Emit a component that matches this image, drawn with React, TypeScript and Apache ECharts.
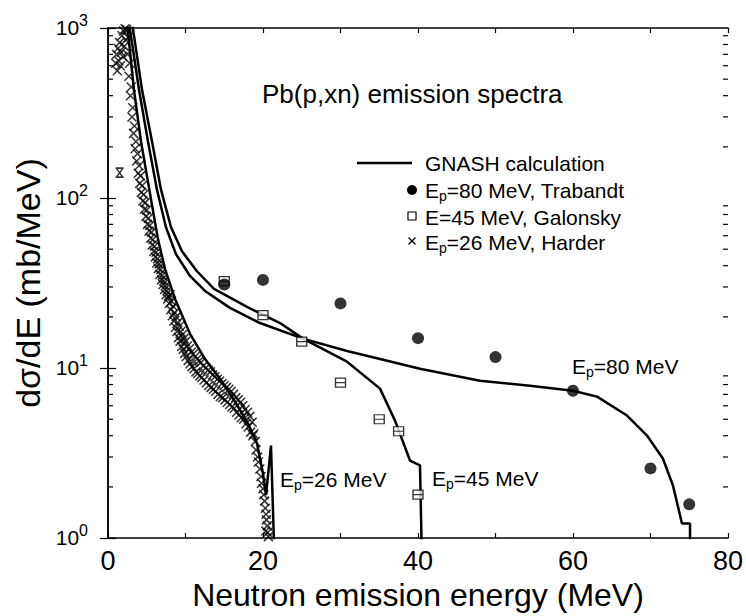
import React, { useEffect, useRef } from "react";
import * as echarts from "echarts";

const FONT = "'Liberation Sans', Arial, Helvetica, sans-serif";

// GNASH calculations: [neutron energy (MeV), dσ/dE (mb/MeV)]
const gnash80: [number, number][] = [
  [2.7, 1080], [4.0, 433], [5.16, 215], [6.32, 112], [7.48, 67.3], [8.77, 46.8],
  [10.58, 34.8], [12.52, 28.4], [15.74, 22.6], [19.61, 18.4], [25.16, 14.9],
  [30.84, 12.6], [35.1, 11.3], [40.26, 9.9], [48.0, 8.43], [54.45, 7.88],
  [60.0, 7.36], [63.1, 6.79], [66.97, 5.26], [69.55, 4.01], [71.6, 2.94],
  [72.9, 2.04], [74.06, 1.22], [75.1, 1.22], [75.1, 0.45],
];

const gnash45: [number, number][] = [
  [3.1, 1080], [4.39, 433], [5.68, 215], [6.84, 112], [8.13, 67.3], [9.55, 48.6],
  [11.48, 37.1], [13.68, 29.2], [17.94, 22.9], [22.2, 18.4], [25.16, 14.9],
  [30.84, 10.9], [35.1, 7.57], [37.03, 4.91], [38.97, 2.86], [40.26, 2.68],
  [40.6, 0.45],
];

const gnash26: [number, number][] = [
  [2.45, 1080], [3.35, 433], [4.26, 215], [5.55, 98.2], [6.45, 57.3], [7.35, 38.3],
  [8.65, 25.5], [10.58, 15.9], [12.52, 11.3], [14.45, 8.66], [16.39, 6.35],
  [18.06, 4.72], [19.23, 3.6], [20.0, 2.4], [20.39, 1.79], [21.03, 3.5],
  [21.42, 0.93],
];

// Measurements
const trabandt80: [number, number][] = [
  [15, 31], [20, 33], [30, 24], [40, 15], [50, 11.6], [60, 7.36], [70, 2.57], [75, 1.58],
];

const galonsky45: [number, number][] = [
  [15, 32.5], [20, 20.5], [25, 14.3], [30, 8.2], [35, 5.0], [37.5, 4.25], [40, 1.8],
];

const harderLow: [number, number] = [1.5, 141];

const harder26: [number, number][] = [
  [1.0, 620], [1.1, 700], [1.2, 560], [1.3, 760], [1.4, 640], [1.5, 820], [1.6, 600],
  [1.7, 720], [1.8, 900], [1.9, 680], [2.0, 960], [2.1, 780], [2.2, 990], [2.3, 850],
  [2.4, 980], [2.5, 700], [2.6, 880], [2.7, 520], [2.8, 620], [2.9, 400], [3.0, 450],
  [3.1, 300], [3.2, 340], [3.3, 240], [3.4, 265], [3.5, 195], [3.6, 215], [3.7, 165],
  [3.8, 182], [3.9, 140], [4.0, 155], [4.1, 122], [4.2, 135], [4.3, 108], [4.4, 118],
  [4.5, 96], [4.6, 105], [4.7, 86], [4.8, 94], [4.9, 78], [5.0, 85], [5.1, 70],
  [5.2, 76], [5.3, 64], [5.4, 69], [5.5, 58], [5.6, 63], [5.7, 53], [5.8, 57],
  [5.9, 48.5], [6.0, 52], [6.1, 45], [6.2, 48], [6.3, 41.5], [6.4, 44], [6.5, 38.5],
  [6.6, 41], [6.7, 35.5], [6.8, 38], [6.9, 33], [7.0, 35], [7.1, 31], [7.2, 32.5],
  [7.3, 29], [7.4, 30.5], [7.5, 27], [7.6, 28.5], [7.7, 25.5], [7.8, 26.5], [7.9, 24],
  [8.0, 27], [8.1, 22], [8.2, 24.8], [8.3, 20.3], [8.4, 23.1], [8.5, 18.9], [8.6, 21.2],
  [8.7, 17.4], [8.8, 20], [8.9, 16.4], [9.0, 18.5], [9.1, 15.1], [9.2, 17.6], [9.3, 14.4],
  [9.4, 16.4], [9.5, 13.4], [9.6, 15.7], [9.7, 12.9], [9.8, 14.9], [9.9, 12.2],
  [10.0, 14.3], [10.1, 11.7], [10.25, 13.5], [10.35, 11.1], [10.5, 13], [10.6, 10.6],
  [10.75, 12.4], [10.85, 10.2], [11.0, 12.1], [11.1, 9.9], [11.25, 11.7], [11.35, 9.5],
  [11.5, 11.3], [11.6, 9.3], [11.75, 11], [11.85, 9.0], [12.0, 10.8], [12.1, 8.8],
  [12.3, 10.3], [12.4, 8.5], [12.6, 10], [12.7, 8.2], [12.9, 9.7], [13.0, 7.9],
  [13.2, 9.5], [13.3, 7.7], [13.5, 9.1], [13.6, 7.5], [13.8, 8.9], [13.9, 7.3],
  [14.1, 8.6], [14.2, 7.0], [14.4, 8.4], [14.5, 6.8], [14.7, 8.1], [14.8, 6.7],
  [15.0, 7.9], [15.1, 6.5], [15.3, 7.7], [15.4, 6.3], [15.6, 7.5], [15.7, 6.1],
  [15.9, 7.3], [16.0, 5.9], [16.2, 7.0], [16.3, 5.8], [16.5, 6.7], [16.6, 5.5],
  [16.8, 6.5], [16.9, 5.3], [17.1, 6.3], [17.2, 5.1], [17.4, 6.0], [17.5, 5.0],
  [17.7, 5.7], [17.8, 4.7], [18.0, 5.5], [18.1, 4.5], [18.3, 5.2], [18.4, 4.2],
  [18.6, 4.8], [18.7, 4.0], [18.8, 4.1], [19.0, 3.7], [19.1, 3.3], [19.3, 3.0],
  [19.4, 2.8], [19.6, 2.55], [19.75, 2.3], [19.8, 2.1], [20.0, 1.95], [20.1, 1.8],
  [20.2, 1.65], [20.3, 1.5], [20.4, 1.38], [20.45, 1.28], [20.55, 1.18], [20.6, 1.08],
  [20.7, 1.02], [20.35, 1.1],
];

// Axis ticks
const xTickValues = [0, 10, 20, 30, 40, 50, 60, 70, 80];
const xLabelValues = [0, 20, 40, 60, 80];
const yMinorTicks = [
  2, 3, 4, 5, 6, 7, 8, 9, 20, 30, 40, 50, 60, 70, 80, 90, 200, 300, 400, 500, 600, 700, 800, 900,
];

const CROSS = "path://M0,0L10,10M10,0L0,10";
const CROSS_BARS = "path://M0,0H10M0,12H10M1,0L9,12M9,0L1,12";
const SQUARE_BAR = "path://M0,0H10V10H0ZM0,5H10";

// Text with a subscript after its first part; yc is the centre of the main letters
function subText(x: number, yc: number, main: string, sub: string, rest: string) {
  return {
    type: "text",
    x,
    y: yc + 1,
    style: {
      text: `{m|${main}}{s|${sub}}{m|${rest}}`,
      verticalAlign: "middle",
      fill: "#000",
      rich: {
        m: { fontSize: 21, lineHeight: 21, verticalAlign: "top", fontFamily: FONT, fill: "#000" },
        s: { fontSize: 14, lineHeight: 14, padding: [9, 0, 0, 0], verticalAlign: "top", fontFamily: FONT, fill: "#000" },
      },
    },
  };
}

function plainText(x: number, yc: number, text: string, size: number) {
  return {
    type: "text",
    x,
    y: yc,
    style: { text, fontSize: size, lineHeight: size, fontFamily: FONT, fill: "#000", verticalAlign: "middle" },
  };
}

export default function App() {
  const ref = useRef<HTMLDivElement>(null);

  useEffect(() => {
    document.body.style.margin = "0";
    if (!ref.current) return;
    const chart = echarts.init(ref.current, undefined, { renderer: "svg" });

    const lineSeries = (name: string, data: [number, number][]) => ({
      name,
      type: "line",
      data,
      symbol: "none",
      clip: true,
      lineStyle: { color: "#000", width: 2.5 },
      z: 5,
    });

    const option = {
      animation: false,
      backgroundColor: "#fff",
      grid: { left: 108, right: 18, top: 28, bottom: 76, containLabel: false },
      xAxis: [
        {
          type: "value",
          min: 0,
          max: 80,
          interval: 10,
          position: "bottom",
          name: "Neutron emission energy (MeV)",
          nameLocation: "middle",
          nameGap: 34,
          nameTextStyle: { fontSize: 32, fontFamily: FONT, color: "#000" },
          axisLine: { show: true, lineStyle: { color: "#000", width: 1.5 } },
          axisTick: { inside: true, length: 5, lineStyle: { color: "#000", width: 1.2 } },
          axisLabel: {
            margin: 9,
            fontSize: 27,
            fontFamily: FONT,
            color: "#000",
            formatter: (v: number) => (xLabelValues.includes(v) ? String(v) : ""),
          },
          splitLine: { show: false },
        },
        {
          type: "value",
          min: 0,
          max: 80,
          interval: 10,
          position: "top",
          axisLine: { show: true, lineStyle: { color: "#000", width: 1.5 } },
          axisTick: { inside: true, length: 5, lineStyle: { color: "#000", width: 1.2 } },
          axisLabel: { show: false },
          splitLine: { show: false },
        },
      ],
      yAxis: [
        {
          type: "log",
          logBase: 10,
          min: 1,
          max: 1000,
          position: "left",
          name: "dσ/dE (mb/MeV)",
          nameLocation: "middle",
          nameGap: 61,
          nameRotate: 90,
          nameTextStyle: { fontSize: 34, fontFamily: FONT, color: "#000" },
          axisLine: { show: true, lineStyle: { color: "#000", width: 1.5 } },
          axisTick: { inside: true, length: 8, lineStyle: { color: "#000", width: 1.2 } },
          axisLabel: {
            margin: 20,
            color: "#000",
            formatter: (v: number) => `{b|10}{s|${Math.round(Math.log10(v))}}`,
            rich: {
              b: { fontSize: 21, lineHeight: 20, verticalAlign: "bottom", fontFamily: FONT, color: "#000" },
              s: { fontSize: 16, lineHeight: 16, padding: [0, 0, 10, 0], verticalAlign: "bottom", fontFamily: FONT, color: "#000" },
            },
          },
          splitLine: { show: false },
        },
        {
          type: "log",
          logBase: 10,
          min: 1,
          max: 1000,
          position: "right",
          axisLine: { show: true, lineStyle: { color: "#000", width: 1.5 } },
          axisTick: { inside: true, length: 8, lineStyle: { color: "#000", width: 1.2 } },
          axisLabel: { show: false },
          splitLine: { show: false },
        },
      ],
      series: [
        {
          name: "yMinorTicks",
          type: "custom",
          silent: true,
          xAxisIndex: 0,
          yAxisIndex: 0,
          data: yMinorTicks.map((v) => [xTickValues[0], v]),
          encode: { x: 0, y: 1 },
          renderItem: (params: any, api: any) => {
            const p = api.coord([0, api.value(1)]);
            const cs = params.coordSys;
            const st = { stroke: "#000", lineWidth: 1.2 };
            return {
              type: "group",
              children: [
                { type: "line", shape: { x1: cs.x, y1: p[1], x2: cs.x + 5, y2: p[1] }, style: st },
                { type: "line", shape: { x1: cs.x + cs.width, y1: p[1], x2: cs.x + cs.width - 5, y2: p[1] }, style: st },
              ],
            };
          },
          z: 3,
        },
        {
          name: "Ep=26 MeV, Harder",
          type: "scatter",
          data: [
            { value: harderLow, symbol: CROSS_BARS, symbolSize: [8, 9] },
            ...harder26.map((d) => ({ value: d })),
          ],
          symbol: CROSS,
          symbolSize: 9,
          itemStyle: { color: "rgba(0,0,0,0)", borderColor: "#000", borderWidth: 1.5 },
          z: 4,
        },
        {
          name: "E=45 MeV, Galonsky",
          type: "scatter",
          data: galonsky45,
          symbol: SQUARE_BAR,
          symbolSize: [10, 9],
          itemStyle: { color: "#fff", borderColor: "#000", borderWidth: 1.3 },
          z: 6,
        },
        {
          name: "Ep=80 MeV, Trabandt",
          type: "scatter",
          data: trabandt80,
          symbol: "circle",
          symbolSize: 12,
          itemStyle: { color: "#000" },
          z: 6,
        },
        lineSeries("GNASH 80 MeV", gnash80),
        lineSeries("GNASH 45 MeV", gnash45),
        lineSeries("GNASH 26 MeV", gnash26),
      ],
      graphic: [
        plainText(262, 94, "Pb(p,xn) emission spectra", 26),
        { type: "line", shape: { x1: 357, y1: 163, x2: 412, y2: 163 }, style: { stroke: "#000", lineWidth: 2.5 } },
        plainText(425, 163, "GNASH calculation", 21),
        { type: "circle", shape: { cx: 412, cy: 190, r: 5 }, style: { fill: "#000" } },
        subText(425, 189, "E", "p", "=80 MeV, Trabandt"),
        { type: "rect", shape: { x: 408, y: 212, width: 8, height: 8 }, style: { fill: "#fff", stroke: "#000", lineWidth: 1.2 } },
        plainText(425, 217, "E=45 MeV, Galonsky", 21),
        { type: "line", shape: { x1: 408.5, y1: 237.5, x2: 415.5, y2: 244.5 }, style: { stroke: "#000", lineWidth: 1.2 } },
        { type: "line", shape: { x1: 415.5, y1: 237.5, x2: 408.5, y2: 244.5 }, style: { stroke: "#000", lineWidth: 1.2 } },
        subText(425, 241, "E", "p", "=26 MeV, Harder"),
        subText(572, 365, "E", "p", "=80 MeV"),
        subText(432, 477, "E", "p", "=45 MeV"),
        subText(280, 478, "E", "p", "=26 MeV"),
      ],
    };

    chart.setOption(option as any);
    return () => chart.dispose();
  }, []);

  return <div ref={ref} style={{ width: 746, height: 616 }} />;
}
